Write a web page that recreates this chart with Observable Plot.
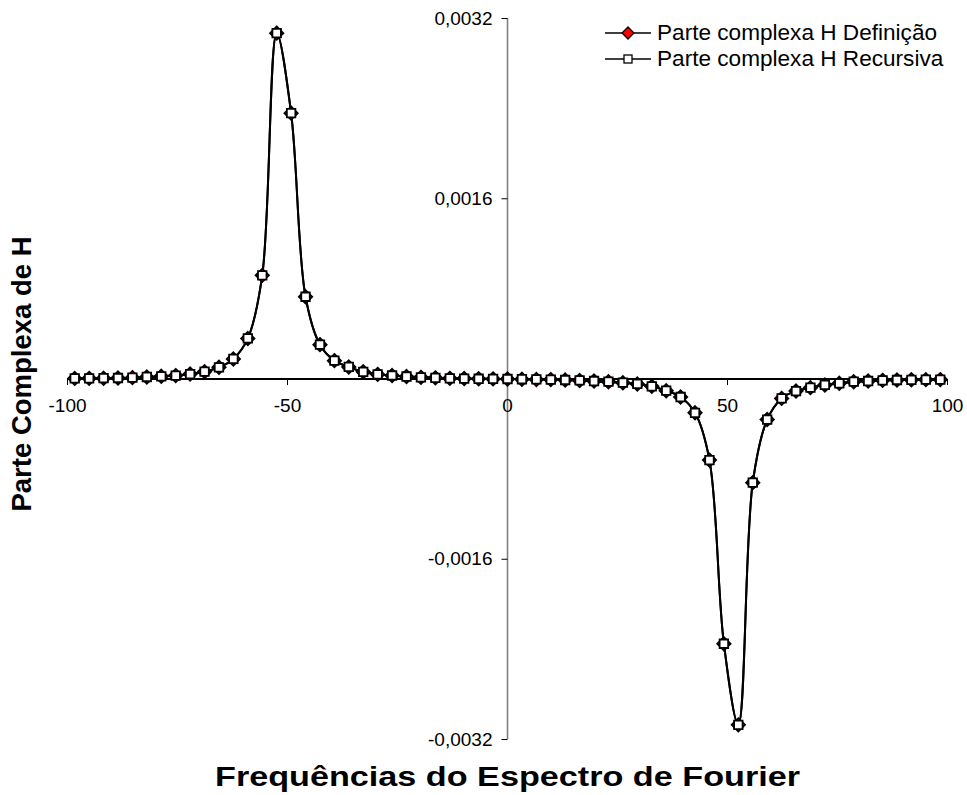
<!DOCTYPE html>
<html><head><meta charset="utf-8">
<script src="https://cdn.jsdelivr.net/npm/d3@7"></script>
<script src="https://cdn.jsdelivr.net/npm/@observablehq/plot@0.6"></script>
<style>
body{margin:0;background:#fff;font-family:"Liberation Sans",Arial,sans-serif;}
#wrap{position:relative;width:967px;height:795px;}
#legend{position:absolute;left:604px;top:20px;font-size:22.6px;color:#000;line-height:26px;}
.row{display:flex;align-items:center;height:26px;white-space:nowrap;}
.row svg{margin-right:5px;display:block;}
</style></head><body><div id="wrap"><div id="legend"></div></div>
<script>
const freq = [-98.36,-95.08,-91.80,-88.52,-85.25,-81.97,-78.69,-75.41,-72.13,-68.85,-65.57,-62.30,-59.02,-55.74,-52.46,-49.18,-45.90,-42.62,-39.34,-36.07,-32.79,-29.51,-26.23,-22.95,-19.67,-16.39,-13.11,-9.84,-6.56,-3.28,0,
  3.28,6.56,9.84,13.11,16.39,19.67,22.95,26.23,29.51,32.79,36.07,39.34,42.62,45.90,49.18,52.46,55.74,59.02,62.30,65.57,68.85,72.13,75.41,78.69,81.97,85.25,88.52,91.80,95.08,98.36];
const defValues = [0.000005,0.000006,0.000007,0.000009,0.000012,0.000018,0.000024,0.000030,0.000044,0.000065,0.000104,0.000178,0.000360,0.000920,0.003070,0.002360,0.000730,0.000305,0.000163,0.000107,0.000064,0.000041,0.000031,0.000022,0.000015,0.000010,0.000006,0.000004,0.000002,0.000001,0,
  -0.000002,-0.000004,-0.000005,-0.000009,-0.000013,-0.000018,-0.000024,-0.000033,-0.000044,-0.000065,-0.000104,-0.000160,-0.000300,-0.000720,-0.002350,-0.003070,-0.000920,-0.000360,-0.000172,-0.000107,-0.000077,-0.000053,-0.000038,-0.000024,-0.000018,-0.000012,-0.000009,-0.000007,-0.000006,-0.000005];
const recValues = [0.000005,0.000006,0.000007,0.000009,0.000012,0.000018,0.000024,0.000030,0.000044,0.000065,0.000104,0.000178,0.000360,0.000920,0.003070,0.002360,0.000730,0.000305,0.000163,0.000107,0.000064,0.000041,0.000031,0.000022,0.000015,0.000010,0.000006,0.000004,0.000002,0.000001,0,
  -0.000002,-0.000004,-0.000005,-0.000009,-0.000013,-0.000018,-0.000024,-0.000033,-0.000044,-0.000065,-0.000104,-0.000160,-0.000300,-0.000720,-0.002350,-0.003070,-0.000920,-0.000360,-0.000172,-0.000107,-0.000077,-0.000053,-0.000038,-0.000024,-0.000018,-0.000012,-0.000009,-0.000007,-0.000006,-0.000005];
const seriesNames = ["Parte complexa H Definição", "Parte complexa H Recursiva"];
const xTicks = [-100, -50, 0, 50, 100];
const xTickLabels = ["-100", "-50", "0", "50", "100"];
const yTicks = [-0.0032, -0.0016, 0.0016, 0.0032];
const yTickLabels = ["-0,0032", "-0,0016", "0,0016", "0,0032"];
const xTitle = "Frequências do Espectro de Fourier";
const yTitle = "Parte Complexa de H";

const defData = freq.map((f, i) => ({f, v: defValues[i]}));
const recData = freq.map((f, i) => ({f, v: recValues[i]}));

const tickLeft = {draw(ctx) { ctx.moveTo(-6, 0); ctx.lineTo(0, 0); }};
const tickDown = {draw(ctx) { ctx.moveTo(0, 0); ctx.lineTo(0, 6); }};

const chart = Plot.plot({
  width: 967, height: 795,
  marginLeft: 67, marginRight: 20, marginTop: 18, marginBottom: 56,
  x: {domain: [-100, 100], axis: null},
  y: {domain: [-0.0032, 0.0032], axis: null},
  style: {fontFamily: '"Liberation Sans", Arial, sans-serif', background: "transparent", color: "#000"},
  marks: [
    Plot.ruleY([0], {stroke: "#000", strokeWidth: 1.8}),
    Plot.ruleX([0], {stroke: "#808080", strokeWidth: 1.6}),
    Plot.dot(yTicks, {x: 0, y: d => d, symbol: tickLeft, fill: "none", stroke: "#000", strokeWidth: 1}),
    Plot.dot(xTicks, {x: d => d, y: 0, symbol: tickDown, fill: "none", stroke: "#000", strokeWidth: 1}),
    Plot.text(yTicks, {x: 0, y: d => d, text: (d, i) => yTickLabels[i], textAnchor: "end", dx: -15, fontSize: 19}),
    Plot.text(xTicks, {x: d => d, y: 0, text: (d, i) => xTickLabels[i], dy: 27, fontSize: 19}),
    Plot.text([xTitle], {frameAnchor: "bottom", lineAnchor: "middle", dy: 38, fontSize: 28, fontWeight: "bold", className: "xtitle"}),
    Plot.text([yTitle], {frameAnchor: "left", lineAnchor: "middle", textAnchor: "middle", rotate: -90, dx: -45, dy: -5, fontSize: 27.5, fontWeight: "bold"}),
    Plot.line(defData, {x: "f", y: "v", curve: "catmull-rom", stroke: "#000", strokeWidth: 2}),
    Plot.line(recData, {x: "f", y: "v", curve: "catmull-rom", stroke: "#000", strokeWidth: 2}),
    Plot.dot(defData, {x: "f", y: "v", symbol: "diamond2", r: 6, fill: "#ff0000", stroke: "#000", strokeWidth: 1.8}),
    Plot.dot(recData, {x: "f", y: "v", symbol: "square", r: 4.8, fill: "#fff", stroke: "#000", strokeWidth: 1.8})
  ]
});
const tt = chart.querySelector(".xtitle text");
if (tt) { tt.setAttribute("textLength", "585"); tt.setAttribute("lengthAdjust", "spacingAndGlyphs"); }
document.getElementById("wrap").prepend(chart);

const legend = document.getElementById("legend");
const swatches = [
  '<svg width="48" height="20"><line x1="1" x2="47" y1="10" y2="10" stroke="#000" stroke-width="1.6"/><path d="M24,4L30,10L24,16L18,10Z" fill="#ff0000" stroke="#000" stroke-width="1.3"/></svg>',
  '<svg width="48" height="20"><line x1="1" x2="47" y1="10" y2="10" stroke="#000" stroke-width="1.6"/><rect x="20" y="6" width="8" height="8" fill="#fff" stroke="#000" stroke-width="1.3"/></svg>'
];
seriesNames.forEach((name, i) => {
  const row = document.createElement("div");
  row.className = "row";
  row.innerHTML = swatches[i] + "<span>" + name + "</span>";
  legend.appendChild(row);
});
</script>
</body></html>
